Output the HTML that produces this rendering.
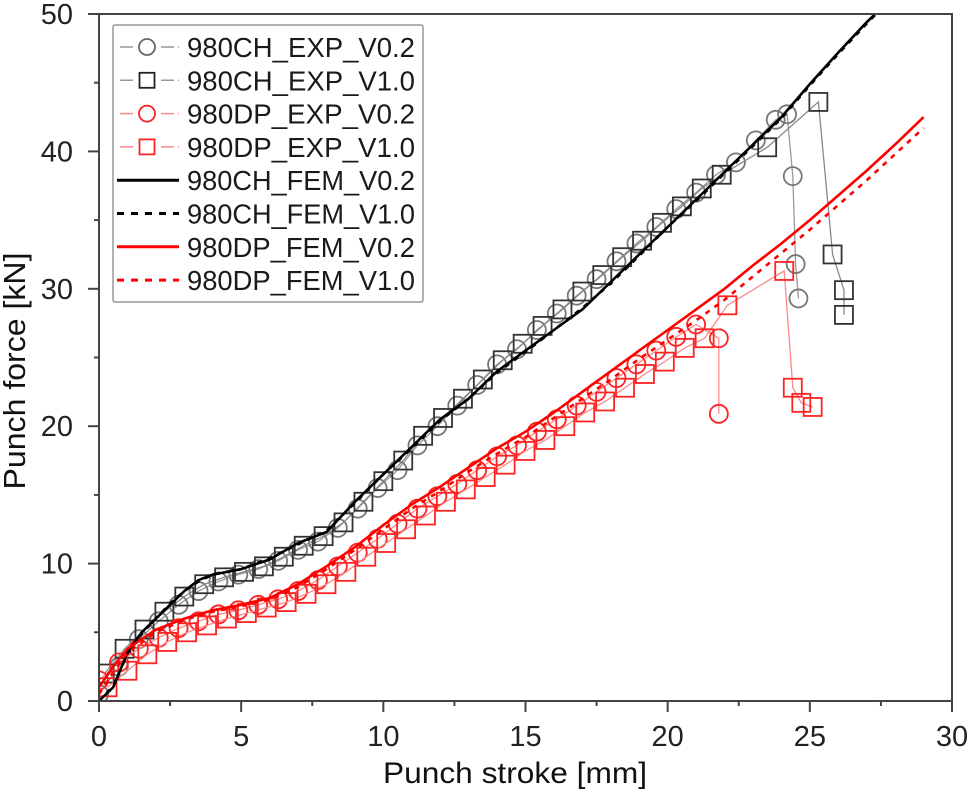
<!DOCTYPE html>
<html><head><meta charset="utf-8"><style>
body{margin:0;background:#fff;}
svg{display:block;font-family:"Liberation Sans",Arial,sans-serif;}
</style></head><body>
<svg id="chart" width="968" height="799" viewBox="0 0 968 799" xmlns="http://www.w3.org/2000/svg">
<defs><clipPath id="plotclip"><rect x="99" y="14" width="853" height="687"/></clipPath></defs>
<g id="plot" clip-path="url(#plotclip)"></g>
<g id="axes"></g>
<g id="legend"></g>
</svg>
<script>
const chFemX=[0,0.5,1,1.5,2,2.5,3,3.5,4,5,6,7,8,9,10,11,12,13,14,15,16,17,18,19,20,21,22,23,24,25,26,27,27.8];
const chFemV02=[0,1,3.5,5,6,7,8,8.8,9.2,9.6,10.3,11.5,12.3,14.5,16.5,18.5,20.5,22,24,25.5,27,28.5,30.5,32.5,34.5,36.5,38.5,40.5,42.5,44.9,47.2,49.4,51];
const chFemV10=[0,1.1,3.4,4.9,6,7.1,8,8.7,9.2,9.6,10.4,11.4,12.4,14.4,16.5,18.4,20.4,22,23.9,25.4,27,28.6,30.4,32.4,34.5,36.4,38.4,40.4,42.4,44.8,47.1,49.3,51];
const dpFemX=[0,0.5,1,2,3,4,5,6,7,8,9,10,11,12,13,14,15,16,17,18,19,20,21,22,23,24,25,26,27,28,29];
const dpFemV02=[1,2.5,3.8,5.2,6,6.6,7,7.5,8.5,9.8,11.2,12.8,14.3,15.6,17,18.4,19.6,21,22.5,24,25.5,27,28.5,30,31.7,33.3,35,36.8,38.6,40.5,42.5];
const dpFemV10=[0.5,2.1,3.5,5,5.9,6.5,6.9,7.4,8.3,9.6,11,12.5,14,15.3,16.7,18,19.2,20.6,22,23.4,24.9,26.3,27.7,29.2,30.9,32.6,34.3,36.1,37.9,39.8,41.7];
const chExpV02X=[0,0.7,1.4,2.1,2.8,3.5,4.2,4.9,5.6,6.3,7,7.7,8.4,9.1,9.8,10.5,11.2,11.9,12.6,13.3,14,14.7,15.4,16.1,16.8,17.5,18.2,18.9,19.6,20.3,21,21.7,22.4,23.1,23.8,24.2,24.4,24.5,24.6];
const chExpV02Y=[0.5,2.5,4.5,5.8,7,8,8.7,9.2,9.6,10.2,11,11.6,12.6,14,15.5,16.8,18.6,20,21.5,23,24.5,25.6,27,28.2,29.5,30.7,32,33.3,34.5,35.8,37,38.3,39.2,40.8,42.3,42.7,38.2,31.8,29.3];
const chExpV10X=[0.2,0.9,1.6,2.3,3,3.7,4.4,5.1,5.8,6.5,7.2,7.9,8.6,9.3,10,10.7,11.4,12.1,12.8,13.5,14.2,14.9,15.6,16.3,17,17.7,18.4,19.1,19.8,20.5,21.2,21.9,23.5,25.3,25.8,26.2,26.2];
const chExpV10Y=[2,3.8,5.2,6.5,7.6,8.5,9,9.4,9.8,10.5,11.3,12,13,14.5,16,17.5,19.3,20.6,22,23.4,24.8,26,27.3,28.5,29.8,31,32.3,33.5,34.8,36,37.3,38.3,40.3,43.6,32.5,29.9,28.1];
const dpExpV02X=[0,0.7,1.4,2.1,2.8,3.5,4.2,4.9,5.6,6.3,7,7.7,8.4,9.1,9.8,10.5,11.2,11.9,12.6,13.3,14,14.7,15.4,16.1,16.8,17.5,18.2,18.9,19.6,20.3,21,21.8,21.8];
const dpExpV02Y=[1.5,2.8,3.8,4.6,5.3,5.8,6.3,6.6,7,7.4,8,8.8,9.8,10.8,11.8,12.9,14,14.9,15.8,16.8,17.8,18.6,19.6,20.5,21.5,22.5,23.5,24.5,25.5,26.5,27.4,26.4,20.9];
const dpExpV10X=[0.3,1,1.7,2.4,3.1,3.8,4.5,5.2,5.9,6.6,7.3,8,8.7,9.4,10.1,10.8,11.5,12.2,12.9,13.6,14.3,15,15.7,16.4,17.1,17.8,18.5,19.2,19.9,20.6,21.3,22.1,24.1,24.4,24.7,25.1];
const dpExpV10Y=[1,2.2,3.4,4.3,5,5.5,6,6.4,6.8,7.2,7.8,8.5,9.4,10.5,11.5,12.5,13.5,14.5,15.4,16.3,17.2,18.2,19,20,21,21.8,22.8,23.8,24.7,25.7,26.4,28.8,31.3,22.8,21.7,21.4];
const xTicks=[0,5,10,15,20,25,30];
const yTicks=[0,10,20,30,40,50];

const NS='http://www.w3.org/2000/svg';
const X0=99,X1=952,Y0=701,Y1=14;
const sx=v=>X0+(v/30)*(X1-X0);
const sy=v=>Y0-(v/50)*(Y0-Y1);
function mk(tag,attrs,parent){const e=document.createElementNS(NS,tag);for(const k in attrs)e.setAttribute(k,attrs[k]);parent.appendChild(e);return e;}
const plot=document.getElementById('plot'),axes=document.getElementById('axes'),legend=document.getElementById('legend');
function pts(xs,ys){return xs.map((x,i)=>sx(x).toFixed(1)+','+sy(ys[i]).toFixed(1)).join(' ');}

function expSeries(xs,ys,shape,col,lineCol,name){
  const g=mk('g',{},plot);
  
  
  const l=mk('polyline',{points:pts(xs,ys),fill:'none',stroke:lineCol,'stroke-width':1.3},g);
  
  
  xs.forEach((x,i)=>{
    let m;
    if(shape==='c') m=mk('circle',{cx:sx(x),cy:sy(ys[i]),r:9,fill:'none',stroke:col,'stroke-width':1.8},g);
    else m=mk('rect',{x:sx(x)-9,y:sy(ys[i])-9,width:18,height:18,fill:'none',stroke:col,'stroke-width':1.8},g);
    
    
  });
}
function femSeries(xs,ys,col,dash,name){
  const l=mk('polyline',{points:pts(xs,ys),fill:'none',stroke:col,'stroke-width':2.6,'stroke-dasharray':dash?'5,6':'none'},plot);
  
  
}
expSeries(chExpV02X,chExpV02Y,'c','#777','#999','ch-exp-v02');
expSeries(chExpV10X,chExpV10Y,'s','#333','#888','ch-exp-v10');
expSeries(dpExpV02X,dpExpV02Y,'c','#f22','#f88','dp-exp-v02');
expSeries(dpExpV10X,dpExpV10Y,'s','#f22','#f88','dp-exp-v10');
femSeries(chFemX,chFemV10,'#000',true,'ch-fem-v10');
femSeries(chFemX,chFemV02,'#000',false,'ch-fem-v02');
femSeries(dpFemX,dpFemV10,'#f00',true,'dp-fem-v10');
femSeries(dpFemX,dpFemV02,'#f00',false,'dp-fem-v02');

const fr=mk('rect',{x:X0,y:Y1,width:X1-X0,height:Y0-Y1,fill:'none',stroke:'#444','stroke-width':2},axes);


xTicks.forEach(v=>{
  const t=mk('line',{x1:sx(v),x2:sx(v),y1:Y0,y2:Y0+11,stroke:'#444','stroke-width':2},axes);
  
  
  const tx=mk('text',{x:sx(v),y:Y0+45,'text-anchor':'middle','font-size':29,fill:'#222'},axes);
  tx.textContent=v;
  
  
  if(v<30){const m=mk('line',{x1:sx(v+2.5),x2:sx(v+2.5),y1:Y0,y2:Y0+5,stroke:'#444','stroke-width':2},axes);
  
  }
});
yTicks.forEach(v=>{
  const t=mk('line',{x1:X0-11,x2:X0,y1:sy(v),y2:sy(v),stroke:'#444','stroke-width':2},axes);
  
  
  const tx=mk('text',{x:73,y:sy(v)+10,'text-anchor':'end','font-size':29,fill:'#222'},axes);
  tx.textContent=v;
  
  
  if(v<50){const m=mk('line',{x1:X0-5,x2:X0,y1:sy(v+5),y2:sy(v+5),stroke:'#444','stroke-width':2},axes);
  
  }
});
const xt=mk('text',{x:515,y:783,'text-anchor':'middle','font-size':30,fill:'#111',textLength:264,lengthAdjust:'spacingAndGlyphs'},axes);
xt.textContent='Punch stroke [mm]';


const yt=mk('text',{x:0,y:0,'text-anchor':'middle','font-size':31,fill:'#111',textLength:237,lengthAdjust:'spacingAndGlyphs',transform:'translate(25,371) rotate(-90)'},axes);
yt.textContent='Punch force [kN]';



const lb=mk('rect',{x:113,y:25,width:310,height:277,fill:'#fff',stroke:'#999','stroke-width':1.5,rx:2},legend);


const legNames=['980CH_EXP_V0.2','980CH_EXP_V1.0','980DP_EXP_V0.2','980DP_EXP_V1.0','980CH_FEM_V0.2','980CH_FEM_V1.0','980DP_FEM_V0.2','980DP_FEM_V1.0'];
const legStyle=[['c','#666','#999'],['s','#222','#999'],['c','#f22','#f88'],['s','#f22','#f88'],['l','#000',''],['d','#000',''],['l','#f00',''],['d','#f00','']];
legNames.forEach((n,i)=>{
  const y=47+i*33.3;
  const g=mk('g',{},legend);
  
  
  const s=legStyle[i];
  if(s[0]==='c'||s[0]==='s'){
    mk('line',{x1:116,x2:179,y1:y,y2:y,stroke:s[2],'stroke-width':1.5,'stroke-dasharray':'0,4,13,28,13,0'},g);
    if(s[0]==='c') mk('circle',{cx:147,cy:y,r:8,fill:'#fff',stroke:s[1],'stroke-width':1.8},g);
    else mk('rect',{x:139.5,y:y-7.5,width:15,height:15,fill:'#fff',stroke:s[1],'stroke-width':1.8},g);
  } else {
    mk('line',{x1:117,x2:179,y1:y,y2:y,stroke:s[1],'stroke-width':3,'stroke-dasharray':s[0]==='d'?'7,7':'none'},g);
  }
  const t=mk('text',{x:187,y:y+10,'font-size':28,fill:'#1a1a1a',textLength:228,lengthAdjust:'spacingAndGlyphs'},g);
  t.textContent=n;
});
</script>
</body></html>
